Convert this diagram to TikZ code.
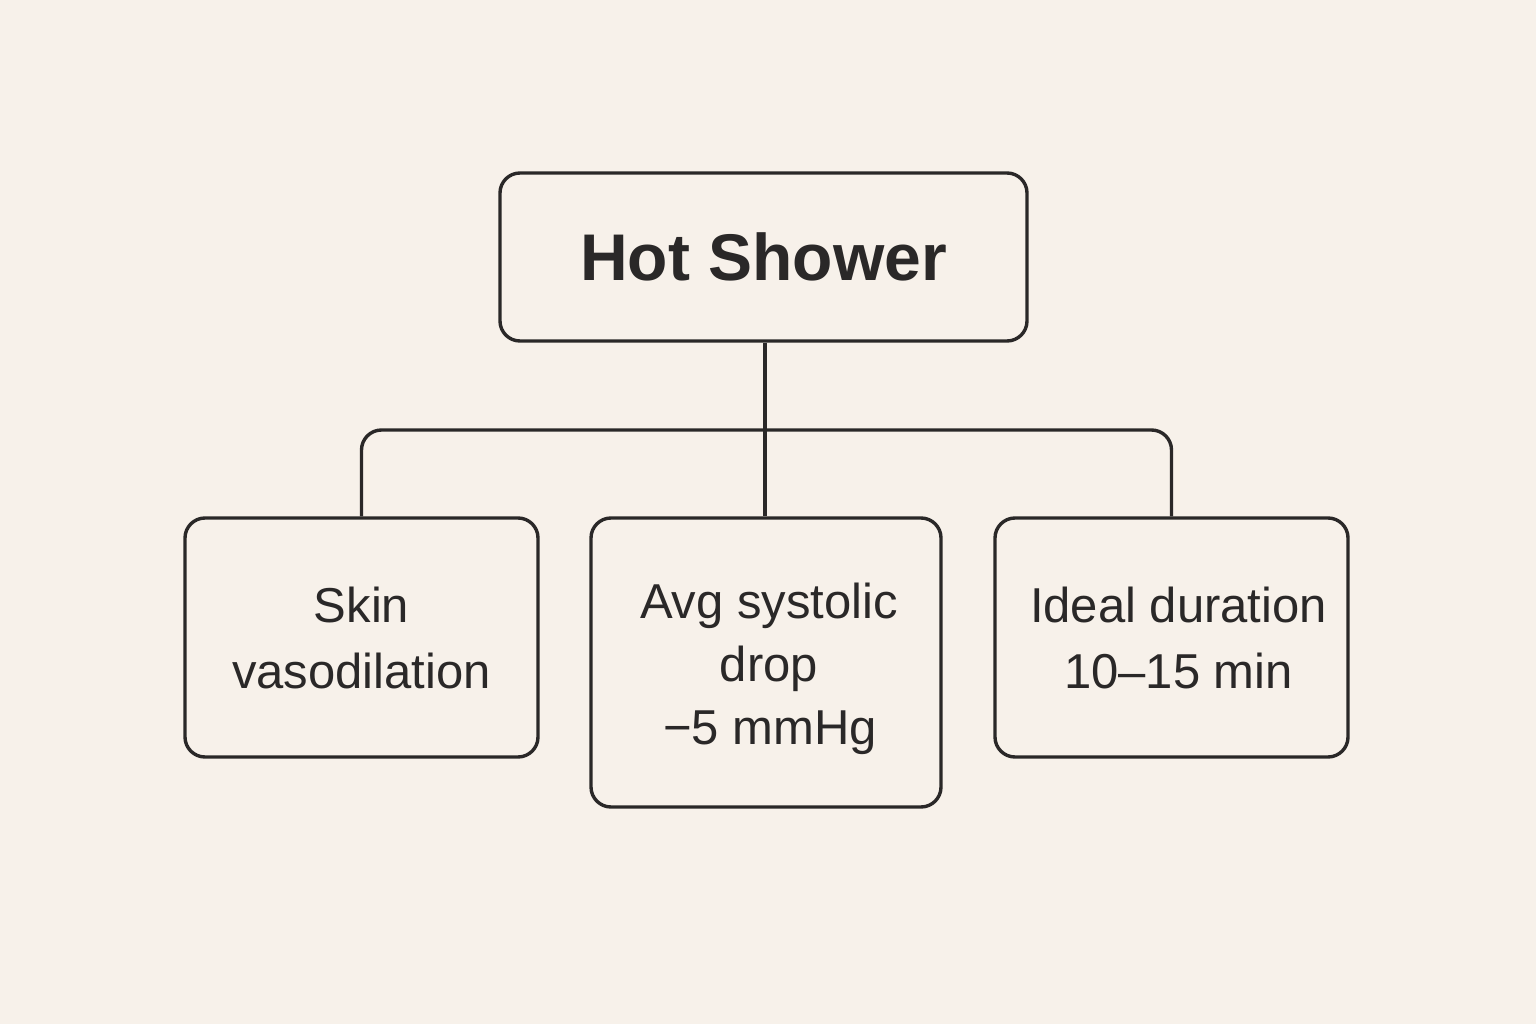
\documentclass[tikz,border=0pt]{standalone}
\usepackage{fontspec}
\setmainfont{Liberation Sans}
\definecolor{bgc}{HTML}{F7F1EA}
\definecolor{ink}{HTML}{2A2828}
\begin{document}
\begin{tikzpicture}[x=1pt,y=-1pt,
  box/.style={draw=ink, line width=3.4pt, rounded corners=20pt, align=center, text=ink, inner sep=0pt},
  body/.style={font=\fontsize{49}{66}\selectfont},
  link/.style={draw=ink, line width=3.4pt}]
\fill[bgc] (0,0) rectangle (1536,1024);
\useasboundingbox (0,0) rectangle (1536,1024);
\node[box, minimum width=527pt, minimum height=168pt, font=\bfseries\fontsize{66}{80}\selectfont] (top) at (763.5,257) {Hot Shower};
\node[box, body, minimum width=353pt, minimum height=239pt] (left) at (361.5,637.5) {Skin\\vasodilation};
\node[box, body, minimum width=350pt, minimum height=289pt, font=\fontsize{49}{63}\selectfont] (mid) at (766,662.5) {\rule{0pt}{48pt}\hspace*{6pt}Avg systolic\\\hspace*{6pt}drop\\\hspace*{8pt}−5 mmHg};
\node[box, body, minimum width=353pt, minimum height=239pt] (right) at (1171.5,637.5) {\hspace*{14pt}Ideal duration\\\hspace*{14pt}10–15 min};
\coordinate (bar) at (765,430);
\draw[link] (top.south -| bar) -- (bar |- mid.north);
\draw[link, rounded corners=20pt] (left.north) |- (bar) -| (right.north);
\end{tikzpicture}
\end{document}
